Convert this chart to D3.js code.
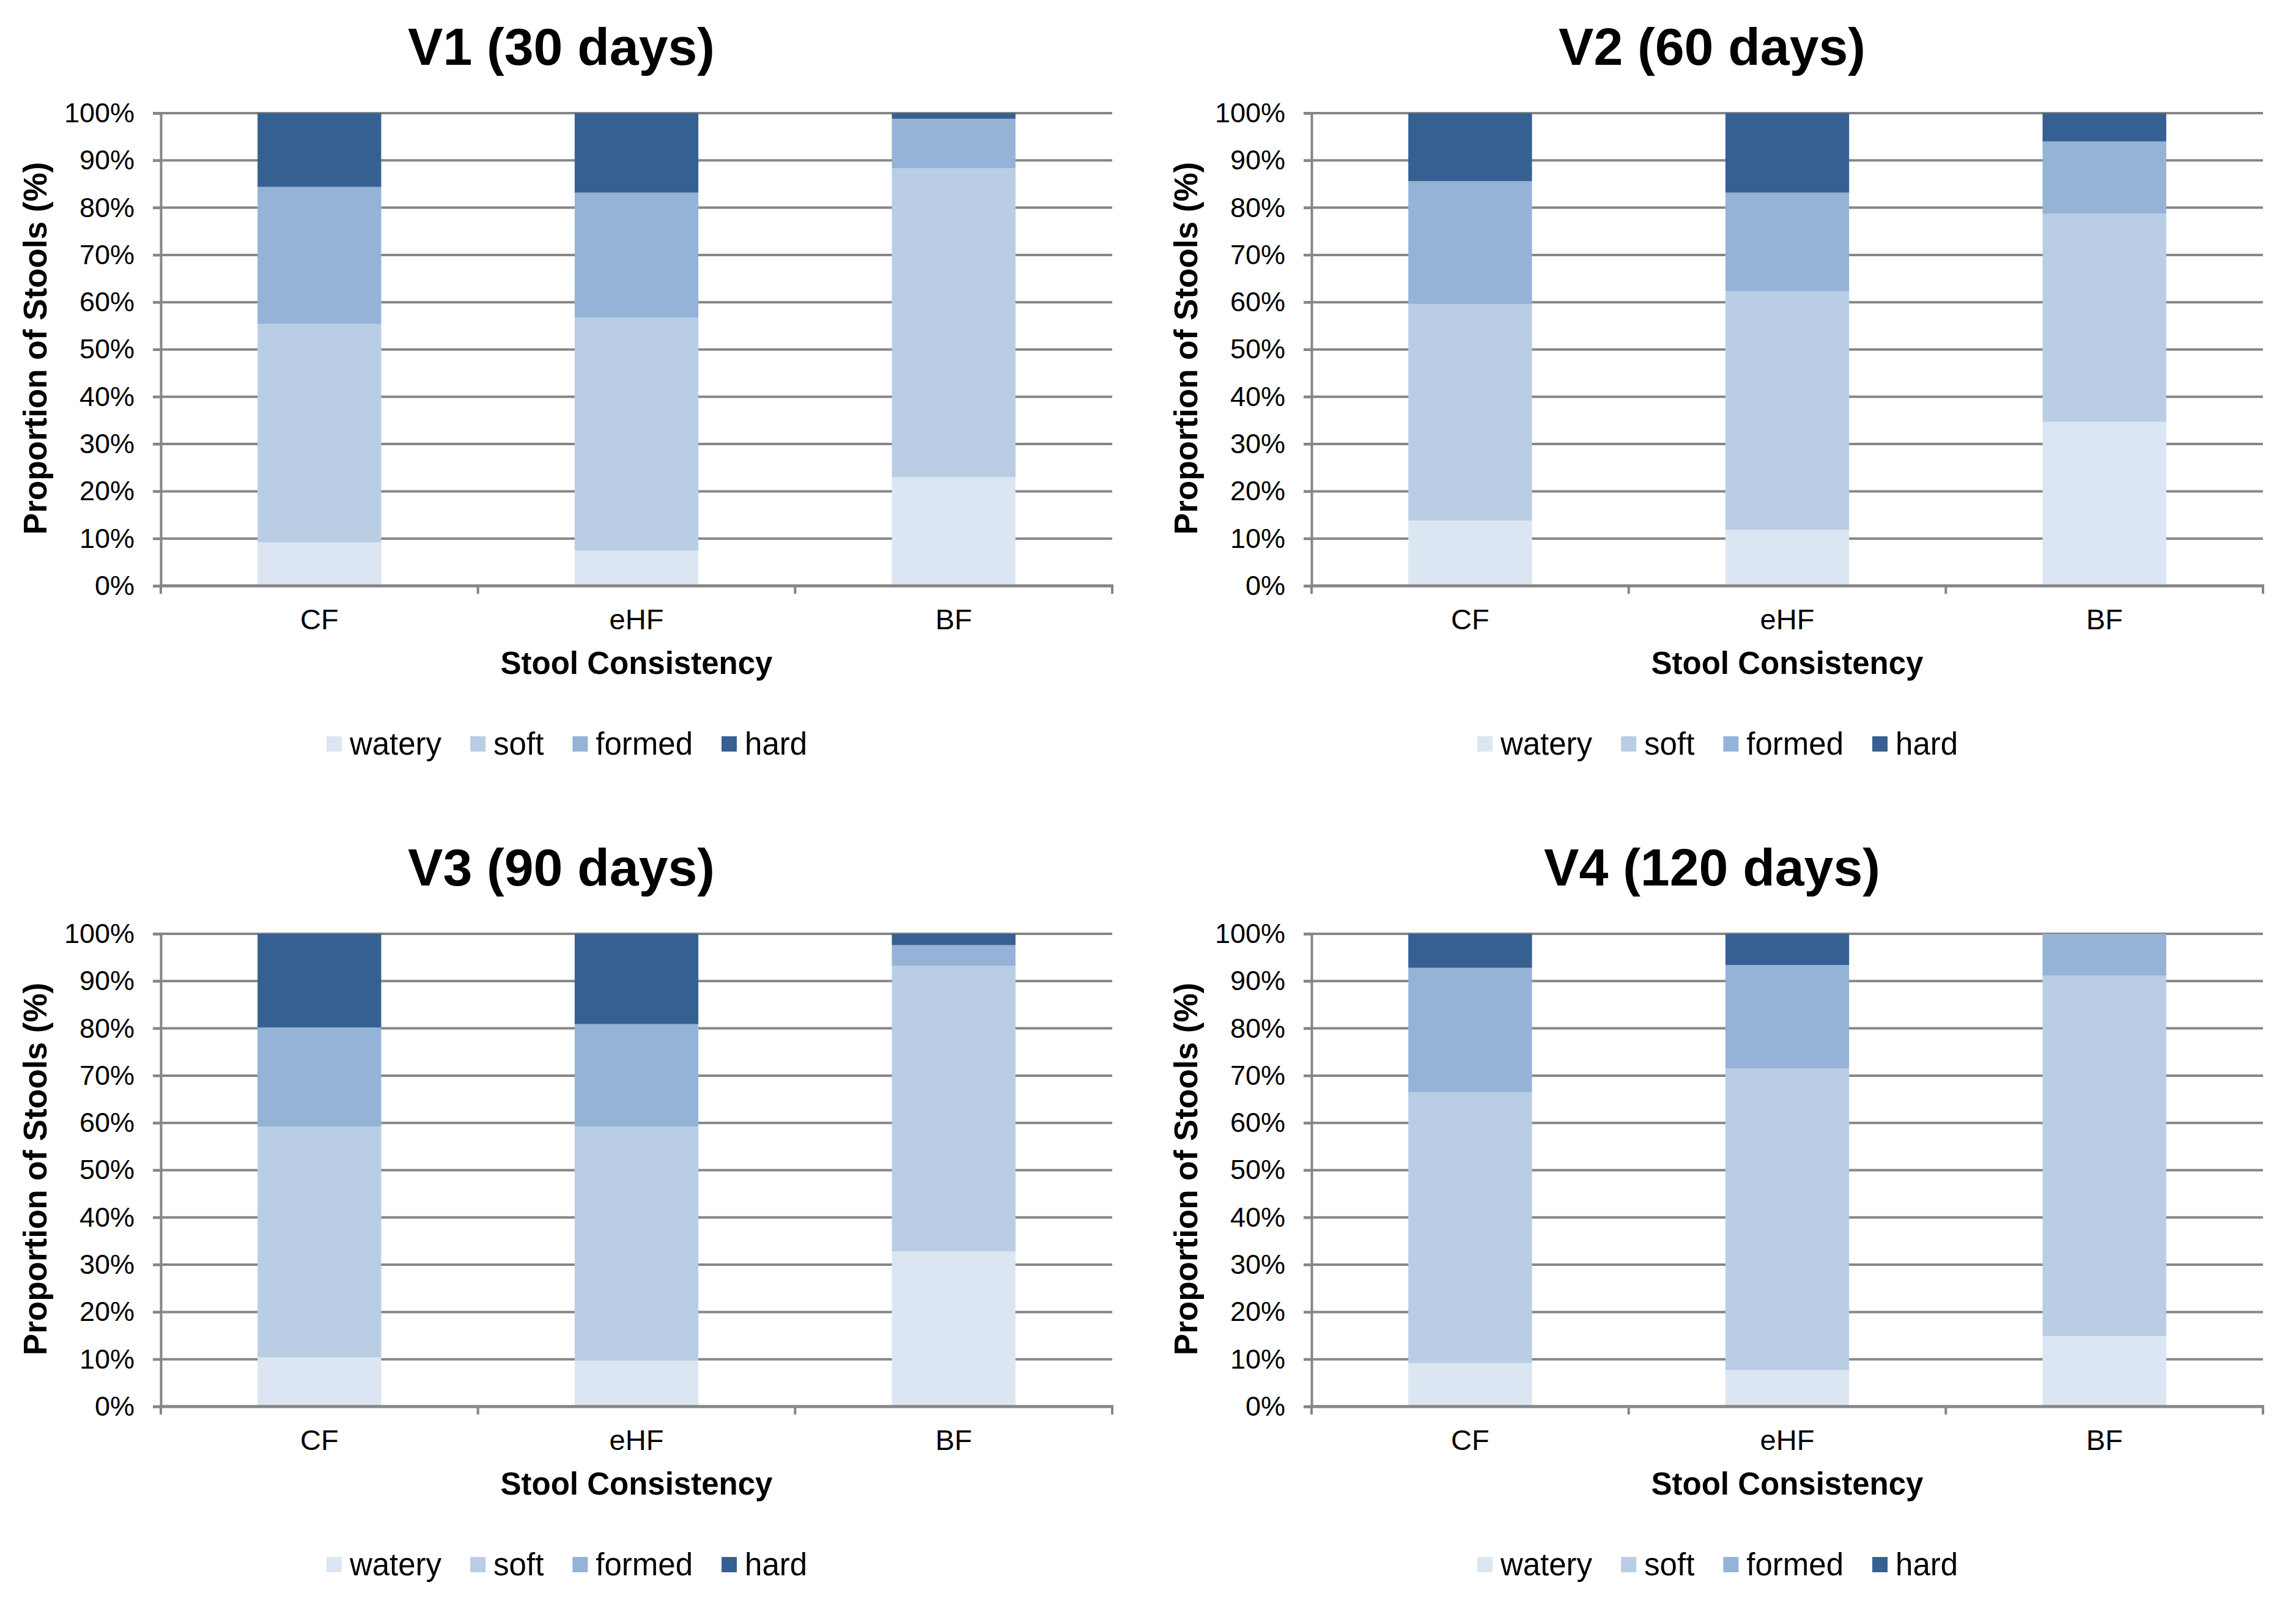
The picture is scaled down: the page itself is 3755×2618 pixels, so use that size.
<!DOCTYPE html>
<html>
<head>
<meta charset="utf-8">
<script src="https://cdn.jsdelivr.net/npm/d3@7"></script>
<style>
  html, body { margin: 0; padding: 0; background: #fff; }
  svg { display: block; font-family: "Liberation Sans", Arial, sans-serif; }
</style>
</head>
<body>
<svg id="chart" width="3755" height="2618"></svg>
<script>
// ---- data ----
const panelTitles = ["V1 (30 days)", "V2 (60 days)", "V3 (90 days)", "V4 (120 days)"];
const groups = ["CF", "eHF", "BF"];
const consistency = ["watery", "soft", "formed", "hard"];
const yTicks = [0, 10, 20, 30, 40, 50, 60, 70, 80, 90, 100];
// per panel (V1..V4), values for CF, eHF, BF (%)
const watery = [[9.2, 7.5, 23.0], [13.8, 11.9, 34.7], [10.4, 9.8, 32.8], [9.2, 7.7, 14.9]];
const soft   = [[46.2, 49.3, 65.3], [45.8, 50.4, 44.0], [48.8, 49.4, 60.4], [57.3, 63.8, 76.3]];
const formed = [[29.0, 26.4, 10.5], [26.0, 20.9, 15.3], [21.0, 21.7, 4.4], [26.3, 21.9, 8.8]];
const hard   = [[15.6, 16.8, 1.2], [14.4, 16.8, 6.0], [19.8, 19.1, 2.4], [7.2, 6.6, 0.0]];
const colors = ["#dce6f2", "#b9cde5", "#95b3d7", "#376092"];
const yTitle = "Proportion of Stools (%)";
const xTitle = "Stool Consistency";

// ---- layout ----
const svg = d3.select("#chart");
const offsets = [[0, 0], [1882, 0], [0, 1342], [1882, 1342]];
const plotL = 263, plotR = 1819, plotT = 185, plotB = 958;
const gridColor = "#868686";
const color = d3.scaleOrdinal().domain(consistency).range(colors);
const seriesData = [watery, soft, formed, hard];

panelTitles.forEach((title, p) => {
  const g = svg.append("g").attr("transform", `translate(${offsets[p][0]},${offsets[p][1]})`);
  const x = d3.scaleBand().domain(groups).range([plotL, plotR]).paddingInner(0.61).paddingOuter(0.305);
  const y = d3.scaleLinear().domain([0, 100]).range([plotB, plotT]);

  const rows = groups.map((grp, i) => {
    const r = { group: grp };
    consistency.forEach((c, k) => r[c] = seriesData[k][p][i]);
    return r;
  });
  const stacked = d3.stack().keys(consistency)(rows);

  // title
  g.append("text").attr("x", 918).attr("y", 106).attr("text-anchor", "middle")
    .attr("font-size", 86).attr("font-weight", "bold").attr("fill", "#000").text(title);

  // gridlines
  g.append("g").selectAll("line").data(yTicks).join("line")
    .attr("x1", plotL - 13).attr("x2", plotR)
    .attr("y1", d => y(d)).attr("y2", d => y(d))
    .attr("stroke", gridColor).attr("stroke-width", 4);

  // bars
  g.append("g").selectAll("g").data(stacked).join("g")
    .attr("fill", d => color(d.key))
    .selectAll("rect").data(d => d).join("rect")
    .attr("x", d => x(d.data.group))
    .attr("width", x.bandwidth())
    .attr("y", d => y(d[1]))
    .attr("height", d => Math.max(0, y(d[0]) - y(d[1])));

  // y axis
  const yAxis = d3.axisLeft(y).tickValues(yTicks).tickFormat(d => d + "%").tickSize(13).tickPadding(30);
  const ya = g.append("g").attr("transform", `translate(${plotL},0)`).call(yAxis);
  ya.select(".domain").attr("stroke", gridColor).attr("stroke-width", 4);
  ya.selectAll(".tick line").attr("stroke", gridColor).attr("stroke-width", 4);
  ya.selectAll(".tick text").attr("font-size", 45).attr("fill", "#000")
    .attr("font-family", "'Liberation Sans', Arial, sans-serif");

  // x axis
  const xAxis = d3.axisBottom(x).tickSize(0).tickPadding(38);
  const xa = g.append("g").attr("transform", `translate(0,${plotB})`).call(xAxis);
  xa.select(".domain").remove();
  xa.selectAll(".tick text").attr("font-size", 47).attr("fill", "#000")
    .attr("font-family", "'Liberation Sans', Arial, sans-serif");
  // category boundary ticks
  const bounds = [plotL].concat(groups.map(grp => x(grp) + x.bandwidth() / 2 + x.step() / 2));
  g.append("g").selectAll("line").data(bounds).join("line")
    .attr("x1", d => d).attr("x2", d => d).attr("y1", plotB).attr("y2", plotB + 13)
    .attr("stroke", gridColor).attr("stroke-width", 4);
  g.append("line").attr("x1", plotL - 2).attr("x2", plotR + 2).attr("y1", plotB).attr("y2", plotB)
    .attr("stroke", gridColor).attr("stroke-width", 5);

  // axis titles
  g.append("text").attr("x", (plotL + plotR) / 2).attr("y", 1102).attr("text-anchor", "middle")
    .attr("font-size", 51).attr("font-weight", "bold").attr("fill", "#000").text(xTitle);
  g.append("text").attr("transform", `translate(76,${(plotT + plotB) / 2 - 2}) rotate(-90)`)
    .attr("text-anchor", "middle").attr("font-size", 53).attr("font-weight", "bold")
    .attr("fill", "#000").text(yTitle);

  // legend
  const leg = g.append("g");
  const items = leg.selectAll("g").data(consistency).join("g");
  items.append("rect").attr("width", 25).attr("height", 25).attr("y", 1204)
    .attr("fill", d => color(d));
  items.append("text").attr("x", 38).attr("y", 1234).attr("font-size", 51).attr("fill", "#000")
    .text(d => d);
  let cx = 0;
  items.each(function () {
    d3.select(this).attr("transform", `translate(${cx},0)`);
    cx += 38 + d3.select(this).select("text").node().getComputedTextLength() + 47;
  });
  const totalW = cx - 47;
  leg.attr("transform", `translate(${927 - totalW / 2},0)`);
});
</script>
</body>
</html>
